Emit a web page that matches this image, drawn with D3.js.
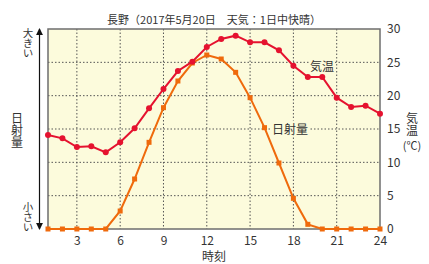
<!DOCTYPE html>
<html>
<head>
<meta charset="utf-8">
<script src="https://cdn.jsdelivr.net/npm/d3@7"></script>
<style>
  body { margin: 0; background: #fff; }
  svg text { font-family: "Noto Sans CJK JP", "Noto Sans", sans-serif; fill: #333; }
  svg text.vert { writing-mode: vertical-rl; }
</style>
</head>
<body>
<svg id="chart" width="429" height="264"></svg>
<script>
const hours = d3.range(1, 25);
const temperature = [14.1, 13.6, 12.3, 12.4, 11.5, 13.0, 15.1, 18.1, 21.0, 23.7, 25.1, 27.3,
  28.5, 29.0, 28.0, 28.0, 26.8, 24.5, 22.8, 22.8, 19.7, 18.3, 18.5, 17.3];
const radiation = [0, 0, 0, 0, 0, 2.7, 7.5, 13.0, 18.2, 22.2, 24.9, 26.1,
  25.5, 23.5, 19.7, 15.2, 9.9, 4.6, 0.7, 0, 0, 0, 0, 0];
const xTicks = [3, 6, 9, 12, 15, 18, 21, 24];
const yTicks = [0, 5, 10, 15, 20, 25, 30];
const title = "長野（2017年5月20日　天気：1日中快晴）";

const svg = d3.select("#chart");
const plot = {left: 48, right: 380, top: 29, bottom: 229};

const x = d3.scaleLinear().domain([1, 24]).range([plot.left, plot.right]);
const y = d3.scaleLinear().domain([0, 30]).range([plot.bottom, plot.top]);

const red = "#e5122f", orange = "#ef6a0c";

// plot background
svg.append("rect")
  .attr("x", plot.left).attr("y", plot.top)
  .attr("width", plot.right - plot.left).attr("height", plot.bottom - plot.top)
  .attr("fill", "#fcfbdc");

// dotted grid
const grid = svg.append("g")
  .attr("stroke", "#555").attr("stroke-width", 1).attr("stroke-dasharray", "1.5,2");
grid.selectAll("line.v").data(xTicks.filter(d => d < 24)).join("line")
  .attr("x1", d => x(d)).attr("x2", d => x(d))
  .attr("y1", plot.top).attr("y2", plot.bottom);
grid.selectAll("line.h").data(yTicks.filter(d => d > 0 && d < 30)).join("line")
  .attr("class", "h")
  .attr("x1", plot.left).attr("x2", plot.right)
  .attr("y1", d => y(d)).attr("y2", d => y(d));

// frame
svg.append("rect")
  .attr("x", plot.left).attr("y", plot.top)
  .attr("width", plot.right - plot.left).attr("height", plot.bottom - plot.top)
  .attr("fill", "none").attr("stroke", "#6e6e6e").attr("stroke-width", 1.5);

// right axis
const yAxis = svg.append("g")
  .attr("transform", `translate(${plot.right},0)`)
  .call(d3.axisRight(y).tickValues(yTicks).tickSize(0).tickPadding(7));
yAxis.select(".domain").remove();
yAxis.selectAll("text").attr("font-size", 12).attr("fill", "#333")
  .attr("font-family", "\"Noto Sans\", sans-serif");

// bottom axis
const xAxis = svg.append("g")
  .attr("transform", `translate(0,${plot.bottom})`)
  .call(d3.axisBottom(x).tickValues(xTicks).tickSize(0).tickPadding(7));
xAxis.select(".domain").remove();
xAxis.selectAll("text").attr("font-size", 12).attr("fill", "#333")
  .attr("font-family", "\"Noto Sans\", sans-serif");

// series
const line = d3.line().x((d, i) => x(hours[i])).y(d => y(d));

svg.append("path").datum(radiation)
  .attr("fill", "none").attr("stroke", orange).attr("stroke-width", 2)
  .attr("d", line);
svg.selectAll("rect.rad").data(radiation).join("rect")
  .attr("class", "rad")
  .attr("x", (d, i) => x(hours[i]) - 2.5).attr("y", d => y(d) - 2.5)
  .attr("width", 5).attr("height", 5).attr("fill", orange);

svg.append("path").datum(temperature)
  .attr("fill", "none").attr("stroke", red).attr("stroke-width", 2)
  .attr("d", line);
svg.selectAll("circle.temp").data(temperature).join("circle")
  .attr("class", "temp")
  .attr("cx", (d, i) => x(hours[i])).attr("cy", d => y(d))
  .attr("r", 3).attr("fill", red);

// series labels
function label(text, cx, cy) {
  const t = svg.append("text").attr("x", cx).attr("y", cy)
    .attr("text-anchor", "middle").attr("dominant-baseline", "central")
    .attr("font-size", 12).text(text);
  const b = t.node().getBBox();
  svg.insert("rect", () => t.node())
    .attr("x", b.x - 1).attr("y", b.y + 1).attr("width", b.width + 2).attr("height", b.height - 2)
    .attr("fill", "#fcfbdc");
}
label("気温", 322, 65);
label("日射量", 290, 128);

// title
svg.append("text").attr("x", 214).attr("y", 19)
  .attr("text-anchor", "middle").attr("dominant-baseline", "central")
  .attr("font-size", 11).text(title);

// vertical text (one element each)
function vtext(text, cx, y0, size, spacing) {
  svg.append("text").attr("class", "vert")
    .attr("x", cx).attr("y", y0)
    .attr("font-size", size).attr("letter-spacing", spacing)
    .text(text);
}
vtext("大きい", 28, 28, 10.5, -0.5);
vtext("日射量", 17, 112, 12, 0);
vtext("小さい", 28, 202, 10.5, -0.5);
vtext("気温", 412, 112, 12, 0);
svg.append("text").attr("x", 412).attr("y", 145)
  .attr("text-anchor", "middle").attr("dominant-baseline", "central")
  .attr("font-size", 11).text("(℃)");
svg.append("text").attr("x", 214).attr("y", 255)
  .attr("text-anchor", "middle").attr("dominant-baseline", "central")
  .attr("font-size", 12).text("時刻");

// double-headed arrow on the left
svg.append("defs").append("marker")
  .attr("id", "arrow").attr("viewBox", "0 0 8 8").attr("refX", 7).attr("refY", 4)
  .attr("markerWidth", 6).attr("markerHeight", 6).attr("orient", "auto-start-reverse")
  .append("path").attr("d", "M0,0L8,4L0,8Z").attr("fill", "#111");
svg.append("line")
  .attr("x1", 39.5).attr("x2", 39.5).attr("y1", y(30)).attr("y2", y(0))
  .attr("stroke", "#111").attr("stroke-width", 1.2)
  .attr("marker-start", "url(#arrow)").attr("marker-end", "url(#arrow)");
</script>
</body>
</html>
